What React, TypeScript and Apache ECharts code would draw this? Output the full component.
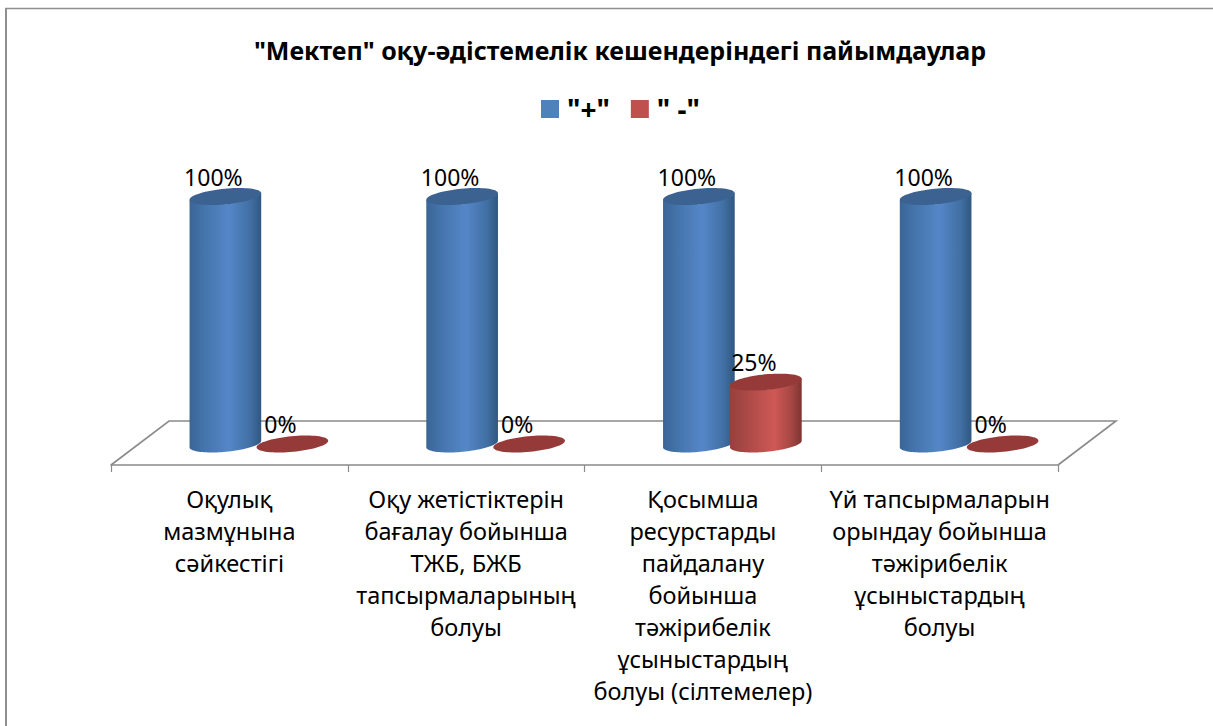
import React, { useEffect, useRef } from "react";
import * as echarts from "echarts";

const TITLE = '"Мектеп" оқу-әдістемелік кешендеріндегі пайымдаулар';
const categories = [
  "Оқулық\nмазмұнына\nсәйкестігі",
  "Оқу жетістіктерін\nбағалау бойынша\nТЖБ, БЖБ\nтапсырмаларының\nболуы",
  "Қосымша\nресурстарды\nпайдалану\nбойынша\nтәжірибелік\nұсыныстардың\nболуы (сілтемелер)",
  "Үй тапсырмаларын\nорындау бойынша\nтәжірибелік\nұсыныстардың\nболуы",
];
const plusValues = [100, 100, 100, 100];
const minusValues = [0, 0, 25, 0];
const FONT = '"Noto Sans", sans-serif';

const GRID = { left: 111, width: 947, top: 196.5, height: 247.5 };
const FLOOR_FRONT = 21;
const FLOOR_BACK = -23;
const DEPTH = 58;
const A = 36;
const B = 7.8;
const TILT = (-5.5 * Math.PI) / 180;
const LINE = "#8a8a8a";

const ellipsePoints = (cx: number, cy: number, from: number, to: number, n = 48) => {
  const pts: number[][] = [];
  for (let i = 0; i <= n; i++) {
    const t = from + ((to - from) * i) / n;
    const ex = A * Math.cos(t);
    const ey = B * Math.sin(t);
    pts.push([cx + ex * Math.cos(TILT) - ey * Math.sin(TILT), cy + ex * Math.sin(TILT) + ey * Math.cos(TILT)]);
  }
  return pts;
};

const cylinder = (dx: number, stops: [number, string][], topColor: string) => (params: any, api: any) => {
  const cat = api.value(0);
  const val = api.value(1);
  const base = api.coord([cat, 0]);
  const top = api.coord([cat, val]);
  const cx = base[0] + DEPTH / 2 + dx;
  const children: any[] = [];
  if (val > 0) {
    const body = [
      ...ellipsePoints(cx, base[1], 0, Math.PI),
      ...ellipsePoints(cx, top[1], Math.PI, 0, 2),
    ];
    children.push({
      type: "polygon",
      shape: { points: body },
      style: {
        fill: new echarts.graphic.LinearGradient(
          0, 0, 1, 0,
          stops.map(([offset, color]) => ({ offset, color })),
        ),
      },
    });
  }
  children.push({
    type: "polygon",
    shape: { points: ellipsePoints(cx, top[1], 0, Math.PI * 2, 72) },
    style: { fill: topColor },
  });
  children.push({
    type: "text",
    x: cx - 12,
    y: top[1] - 20,
    style: {
      text: `${val}%`,
      fill: "#000",
      font: `23px ${FONT}`,
      align: "center",
      verticalAlign: "middle",
    },
  });
  return { type: "group", children };
};

const floor = (params: any, api: any) => {
  const r = params.coordSys;
  const y0 = api.coord([0, 0])[1];
  const back = y0 + FLOOR_BACK;
  const front = y0 + FLOOR_FRONT;
  return {
    type: "polyline",
    shape: {
      points: [
        [r.x, front],
        [r.x + DEPTH, back],
        [r.x + r.width + DEPTH, back],
        [r.x + r.width, front],
      ],
    },
    style: { stroke: LINE, lineWidth: 1.6, fill: "none" },
  };
};

const pairs = (vals: number[]) => vals.map((v, i) => [i, v]);

export default function App() {
  const ref = useRef<HTMLDivElement>(null);
  useEffect(() => {
    document.body.style.margin = "0";
    const chart = echarts.init(ref.current!, null, { renderer: "svg" });
    chart.setOption({
      animation: false,
      backgroundColor: "#fff",
      title: {
        text: TITLE,
        left: 615,
        textAlign: "center",
        top: 32,
        textStyle: { fontFamily: FONT, fontWeight: "bold", fontSize: 25, color: "#000" },
      },
      legend: {
        data: ['"+"', '" -"'],
        left: 541,
        top: 95,
        padding: 0,
        icon: "rect",
        itemWidth: 18,
        itemHeight: 18,
        itemGap: 21,
        selectedMode: false,
        textStyle: { fontFamily: FONT, fontWeight: "bold", fontSize: 28, color: "#000", padding: [0, 0, 0, 3] },
      },
      grid: { ...GRID, containLabel: false },
      xAxis: {
        type: "category",
        data: categories,
        offset: FLOOR_FRONT,
        axisLine: { onZero: false, lineStyle: { color: LINE, width: 1.6 } },
        axisTick: { show: true, length: 7, lineStyle: { color: LINE, width: 1.2 } },
        axisLabel: {
          interval: 0,
          margin: 18,
          color: "#000",
          fontFamily: FONT,
          fontSize: 23.5,
          lineHeight: 32,
        },
      },
      yAxis: { type: "value", min: 0, max: 100, show: false },
      graphic: [
        { type: "line", shape: { x1: 6, y1: 8, x2: 6, y2: 726 }, style: { stroke: "#8f8f8f", lineWidth: 2 } },
        { type: "line", shape: { x1: 5, y1: 8.5, x2: 1213, y2: 8.5 }, style: { stroke: "#8f8f8f", lineWidth: 1.5 } },
      ],
      series: [
        { type: "custom", name: "floor", renderItem: floor, data: [[0, 0]], silent: true, z: 1 },
        {
          type: "custom",
          name: '"+"',
          itemStyle: { color: "#4f81bd" },
          z: 2,
          data: pairs(plusValues),
          encode: { x: 0, y: 1 },
          renderItem: cylinder(-33, [[0, "#3a6597"], [0.2, "#4474ab"], [0.55, "#5587c8"], [0.85, "#416fa3"], [1, "#2f5780"]], "#3b6290"),
        },
        {
          type: "custom",
          name: '" -"',
          itemStyle: { color: "#c0504d" },
          z: 3,
          data: pairs(minusValues),
          encode: { x: 0, y: 1 },
          renderItem: cylinder(34, [[0, "#96403d"], [0.2, "#a84845"], [0.62, "#cf5855"], [0.85, "#a64744"], [1, "#7d3533"]], "#953a38"),
        },
      ],
    });
    return () => chart.dispose();
  }, []);
  return <div ref={ref} style={{ position: "fixed", left: 0, top: 0, width: 1213, height: 726 }} />;
}
